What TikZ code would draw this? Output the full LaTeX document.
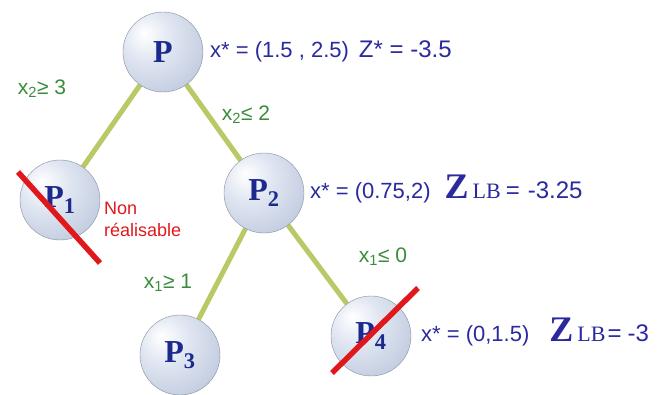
\documentclass[tikz,border=0pt]{standalone}
\usepackage{fontspec}
\setmainfont{Liberation Sans}
\newfontfamily\serifz{Liberation Serif}
\usetikzlibrary{backgrounds}
\definecolor{bubA}{HTML}{DFE5F1}
\definecolor{bubB}{HTML}{B3BFD6}
\definecolor{bubC}{HTML}{97A5C0}
\definecolor{edgecol}{HTML}{B9C965}
\definecolor{txtblue}{HTML}{2A2A9E}
\definecolor{pblue}{HTML}{1C2A8E}
\definecolor{condgreen}{HTML}{3A8C3A}
\definecolor{crossred}{HTML}{E0181C}
\pgfdeclareradialshading{bubble}{\pgfpoint{-12bp}{12bp}}{color(0bp)=(white); color(16bp)=(bubA); color(46bp)=(bubB); color(62bp)=(bubC); color(80bp)=(bubC)}
\tikzset{
  pnode/.style={circle, minimum size=80pt, inner sep=0pt, shading=bubble, draw=bubB!75!black, line width=0.4pt, text=pblue, font=\serifz\bfseries\fontsize{32}{34}\selectfont},
  edgeline/.style={draw=edgecol, line width=5pt},
  cond/.style={text=condgreen, font=\fontsize{21}{24}\selectfont, inner sep=0pt},
  info/.style={text=txtblue, font=\fontsize{22}{26}\selectfont, anchor=west, inner sep=0pt},
  crossline/.style={draw=crossred, line width=5.5pt},
  nonreal/.style={text=crossred, font=\fontsize{18}{22}\selectfont, anchor=north west, align=left, inner sep=0pt}
}
\newcommand{\zlb}{{\serifz\bfseries\fontsize{36}{36}\selectfont Z}\hspace{4pt}{\serifz\fontsize{22}{22}\selectfont LB}}
\newcommand{\midnum}[1]{{\fontsize{24}{26}\selectfont #1}}
\begin{document}
\begin{tikzpicture}[x=1pt,y=-1pt]
\useasboundingbox (0,0) rectangle (666,394);
% nodes
\node[pnode] (P)  at (163,52) {P};
\node[pnode] (P1) at (60,200) {P\textsubscript{1}};
\node[pnode] (P2) at (264,193) {P\textsubscript{2}};
\node[pnode] (P3) at (180,355) {P\textsubscript{3}};
\node[pnode] (P4) at (371,336) {P\textsubscript{4}};
% edges behind nodes
\begin{scope}[on background layer]
\path[edgeline] (P) -- (P1);
\path[edgeline] (P) -- (P2);
\path[edgeline] (P2) -- (P3);
\path[edgeline] (P2) -- (P4);
\end{scope}
% conditions
\node[cond] (c1) at (42,89) {x\textsubscript{2}≥ 3};
\node[cond] (c2) at (246,115) {x\textsubscript{2}≤ 2};
\node[cond] (c3) at (168,283) {x\textsubscript{1}≥ 1};
\node[cond] (c4) at (383,257) {x\textsubscript{1}≤ 0};
% info texts
\node[info] (i0) at (210,51) {x* = (1.5 , 2.5)\hspace{10pt}{\fontsize{24}{26}\selectfont Z* = -3.5}};
\node[info] (i2) at (310,189) {x* = (0.75,2)\hspace{14pt}\zlb\hspace{5pt}\midnum{=\hspace{8pt}-3.25}};
\node[info] (i4) at (421,332) {x* = (0,1.5)\hspace{20pt}\zlb\hspace{2pt}\midnum{=\hspace{6pt}-3}};
\node[nonreal] (nr) at (104,202) {Non\\réalisable};
% crosses
\coordinate (a1) at (18,172);
\coordinate (b1) at (100,263);
\coordinate (a4) at (332,373);
\coordinate (b4) at (418,288);
\path[crossline] (a1) -- (b1);
\path[crossline] (a4) -- (b4);
\end{tikzpicture}
\end{document}
